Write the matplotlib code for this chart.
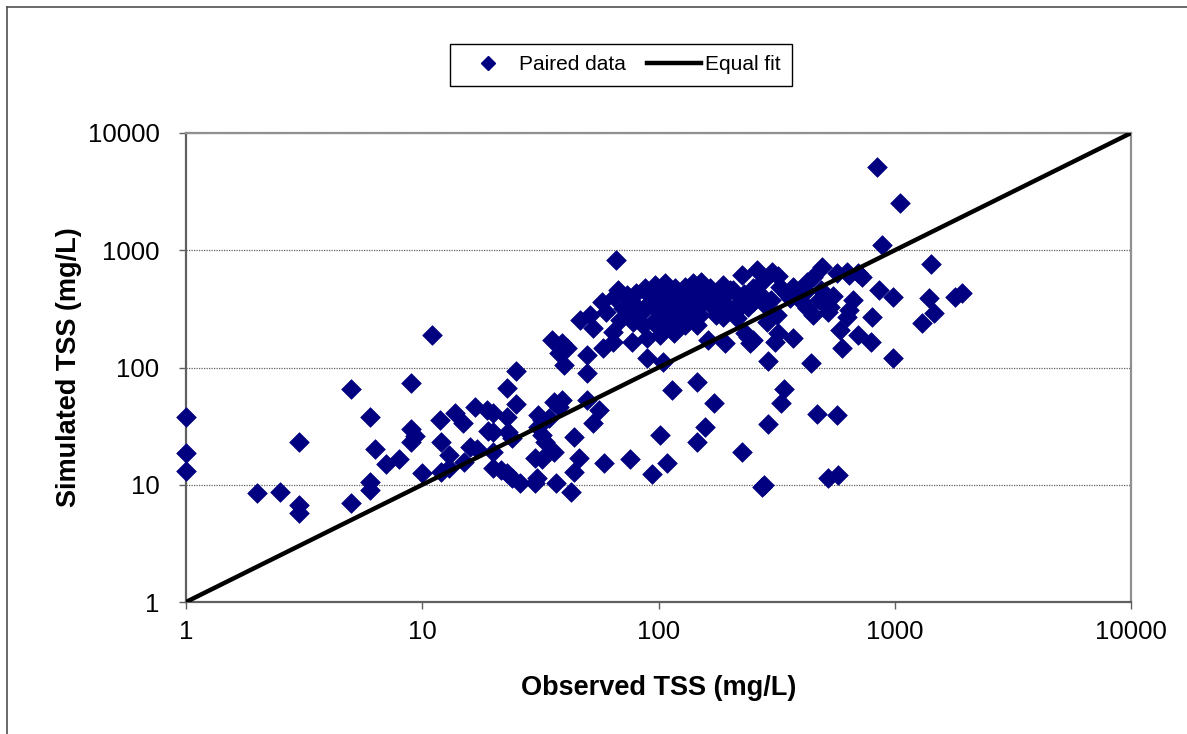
import matplotlib
matplotlib.use("Agg")
import matplotlib.pyplot as plt
from matplotlib.lines import Line2D
from matplotlib.ticker import FixedLocator, FixedFormatter, NullLocator

# ---- data (observed TSS, simulated TSS), mg/L ----
obs_left = [1, 1, 1, 2, 2.5, 3, 3, 3, 5, 5, 6, 6.3, 6, 6, 7, 8, 9, 9, 9.3, 9, 10, 11,
            11.9, 13.8, 14.9, 16.8, 18.8, 20, 22.8, 19, 20, 23, 24, 12, 16, 17, 13, 15,
            12, 13, 20, 20, 21.5, 22.8, 24, 26, 30, 30.5, 25, 22.8, 25]
sim_left = [38, 18.5, 13, 8.5, 8.7, 23, 6.7, 5.7, 7, 65, 38, 20, 10.5, 9, 15, 16.5, 74, 30,
            26, 23, 12.6, 190, 36, 41, 33.7, 46, 43, 41, 38, 29, 28, 28, 25, 23, 21, 20, 18,
            15.6, 12.8, 14, 19, 14, 13.3, 12.6, 11.4, 10.3, 10.3, 11.4, 93, 67, 49]

obs_mid = [31, 32, 34.5, 31, 32, 33, 36, 38, 39, 50, 56, 53, 44, 30, 32, 36, 37, 42.5, 46,
           44, 59, 76, 94, 101, 109, 35.5, 39, 38, 40, 50, 50, 41, 89, 104, 114, 146, 171,
           146, 158, 225, 290, 275, 280, 290, 440, 470, 570, 520, 575, 340, 330, 162, 192,
           245, 240, 66]
sim_mid = [39, 36, 37, 31, 26.6, 23, 51, 46, 53, 53, 43, 33.6, 25.6, 17, 16.5, 19, 10.3,
           8.7, 17, 12.8, 15.3, 16.6, 12.3, 26.5, 15.3, 172, 162, 133, 105, 128, 90, 147,
           120, 111, 64, 75, 50, 23, 31, 19, 33, 9.6, 10, 113, 110, 40, 39, 11.5, 12, 65,
           50, 172, 162, 162, 183, 830]

obs_right = [840, 1050, 885, 1430, 1400, 1470, 1300, 1800, 1930, 985, 980, 860, 800, 790,
             700, 665, 640, 625, 730, 485, 310]
sim_right = [5100, 2550, 1100, 770, 390, 290, 240, 400, 430, 120, 400, 460, 270, 165,
             190, 380, 310, 270, 590, 460, 165]

obs_cluster = [67.6, 73.4, 87.7, 96.6, 107, 117, 130, 140, 152, 165, 188, 207, 225, 260,
               301, 327, 372, 424, 452, 491, 568, 626,
               57.5, 71, 79.6, 92, 101, 112, 123, 138, 150, 171, 194, 221, 252, 282, 316,
               360, 397, 424, 499, 532,
               46.5, 51.3, 53, 64.4, 68.7, 78.2, 86.3, 95.1, 105, 116, 130, 145, 188, 214,
               232, 287, 321, 372,
               58.4, 64.4, 77, 89.1, 101, 116, 252, 596, 587,
               60, 65, 75, 80, 85, 90, 100, 105, 110, 115, 120, 125, 130, 135, 140, 150,
               155, 160, 170, 175, 180, 200, 210, 230, 240, 250, 270, 280, 300, 320, 350,
               380, 400, 420, 450, 480, 520, 550, 640, 700]
sim_cluster = [458, 415, 473, 506, 522, 473, 489, 522, 539, 473, 506, 458, 615, 679,
               656, 489, 489, 539, 595, 724, 635, 656,
               364, 320, 341, 364, 389, 341, 320, 352, 341, 320, 341, 364, 364, 341, 280,
               389, 415, 320, 364, 330,
               254, 280, 216, 202, 254, 246, 230, 246, 223, 223, 230, 230, 271, 263,
               196, 246, 196, 177,
               146, 166, 166, 177, 189, 196, 172, 146, 209,
               300, 400, 280, 430, 300, 420, 300, 440, 280, 420, 380, 270, 440, 290, 400, 280,
               450, 380, 440, 280, 400, 460, 300, 420, 330, 480, 420, 560, 380, 600, 420,
               450, 370, 450, 280, 380, 300, 410, 610, 640]

observed = obs_left + obs_mid + obs_cluster + obs_right
simulated = sim_left + sim_mid + sim_cluster + sim_right

fit_x = [1, 10000]
fit_y = [1, 10000]

x_ticks = [1, 10, 100, 1000, 10000]
x_tick_labels = ["1", "10", "100", "1000", "10000"]
y_ticks = [1, 10, 100, 1000, 10000]
y_tick_labels = ["1", "10", "100", "1000", "10000"]

plt.rcParams['font.family'] = ['Liberation Sans', 'DejaVu Sans']

W, H = 1187, 734
fig = plt.figure(figsize=(W / 100, H / 100), dpi=100)
fig.patch.set_facecolor("white")

# outer chart border (top and left visible)
fig.add_artist(Line2D([7 / W, 7 / W], [0, 1 - 7 / H], transform=fig.transFigure,
                      color="#505050", lw=1.2))
fig.add_artist(Line2D([7 / W, 1], [1 - 7 / H, 1 - 7 / H], transform=fig.transFigure,
                      color="#505050", lw=1.2))

ax = fig.add_axes([186 / W, (H - 602) / H, (1131 - 186) / W, (602 - 133) / H])
ax.set_xscale("log")
ax.set_yscale("log")
ax.set_xlim(1, 10000)
ax.set_ylim(1, 10000)

ax.scatter(observed, simulated, marker="D", s=100, color="#000080",
           edgecolors="#000080", linewidths=0.5, zorder=3, label="Paired data",
           clip_on=False)
ax.plot(fit_x, fit_y, color="black", lw=3.2, zorder=4, label="Equal fit",
        solid_capstyle="butt")

ax.xaxis.set_major_locator(FixedLocator(x_ticks))
ax.xaxis.set_major_formatter(FixedFormatter(x_tick_labels))
ax.yaxis.set_major_locator(FixedLocator(y_ticks))
ax.yaxis.set_major_formatter(FixedFormatter(y_tick_labels))
ax.xaxis.set_minor_locator(NullLocator())
ax.yaxis.set_minor_locator(NullLocator())

ax.yaxis.grid(True, linestyle=(0, (1, 1)), color="#606060", lw=0.9)
ax.set_axisbelow(True)

for side in ["left", "bottom"]:
    ax.spines[side].set_color("#606060")
    ax.spines[side].set_linewidth(1.6)
for side in ["top", "right"]:
    ax.spines[side].set_color("#909090")
    ax.spines[side].set_linewidth(1.6)

ax.tick_params(axis="both", which="major", direction="out", length=5, width=1,
               color="#606060", labelsize=18.5, labelcolor="black")
ax.tick_params(axis="x", pad=8)
ax.tick_params(axis="y", pad=14)

ax.set_xlabel("Observed TSS (mg/L)", fontsize=19.5, fontweight="bold", labelpad=22)
ax.set_ylabel("Simulated TSS (mg/L)", fontsize=19.5, fontweight="bold", labelpad=4)

leg_handles = [
    Line2D([], [], marker="D", linestyle="none", color="#000080", markersize=7),
    Line2D([], [], color="black", lw=3.2),
]
leg = fig.legend(leg_handles, ["Paired data", "Equal fit"], loc="center",
                 bbox_to_anchor=(621 / W, 1 - 65 / H), ncol=2, fontsize=15,
                 frameon=True, fancybox=False, edgecolor="black", framealpha=1,
                 handlelength=2.6, handletextpad=0.2, columnspacing=1.0,
                 borderpad=0.55)
leg.get_frame().set_linewidth(1.0)

fig.savefig("out.png", dpi=100, facecolor="white")
